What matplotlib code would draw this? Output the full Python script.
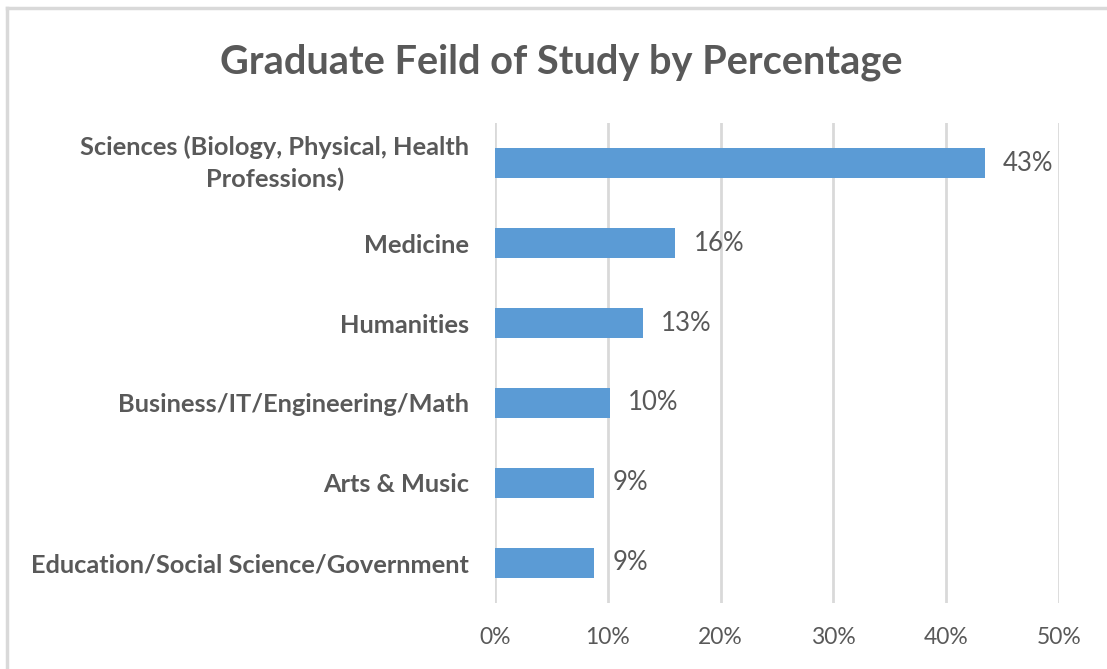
import matplotlib.pyplot as plt
from matplotlib.lines import Line2D

categories = ['Sciences (Biology, Physical, Health\nProfessions)', 'Medicine', 'Humanities',
              'Business/IT/Engineering/Math', 'Arts & Music', 'Education/Social Science/Government']
values = [0.434, 0.16, 0.131, 0.102, 0.088, 0.088]
labels = ['43%', '16%', '13%', '10%', '9%', '9%']
x_ticks = [0, 0.1, 0.2, 0.3, 0.4, 0.5]
x_tick_labels = ['0%', '10%', '20%', '30%', '40%', '50%']

plt.rcParams['font.family'] = ['Lato', 'DejaVu Sans']

W, H = 1107, 669
fig = plt.figure(figsize=(W / 100, H / 100), dpi=100)
ax = fig.add_axes([495 / W, 1 - 603 / H, (1059 - 495) / W, (603 - 123) / H])

ypos = list(range(len(categories)))
ax.barh(ypos, values, height=0.38, color='#5B9BD5', zorder=3)
ax.set_ylim(len(categories) - 0.5, -0.5)
ax.set_xlim(0, 0.5)

for y, v, lab in zip(ypos, values, labels):
    ax.text(v + 0.016, y, lab, va='center', ha='left', fontsize=18.5, color='#595959')

ax.set_yticks(ypos)
ax.set_yticklabels(categories, fontsize=18.3, fontweight='bold', color='#595959', ha='right',
                   multialignment='center', linespacing=1.45)
# the two-line label sits centred on its bar
ax.get_yticklabels()[0].set_va('center')
ax.set_xticks(x_ticks)
ax.set_xticklabels(x_tick_labels, fontsize=16.5, color='#595959')
ax.tick_params(axis='both', length=0)
ax.tick_params(axis='y', pad=18.5)
ax.tick_params(axis='x', pad=17)
ax.grid(axis='x', color='#D9D9D9', linewidth=2, zorder=0)
for s in ax.spines.values():
    s.set_visible(False)

fig.text(561 / W, 1 - 62 / H, 'Graduate Feild of Study by Percentage', ha='center', va='center',
         fontsize=28.6, fontweight='bold', color='#595959')

# outer chart border (only top and left visible)
fig.add_artist(Line2D([7 / W, 1], [1 - 8 / H, 1 - 8 / H], color='#D9D9D9', lw=2.5, transform=fig.transFigure))
fig.add_artist(Line2D([7 / W, 7 / W], [0, 1 - 8 / H], color='#D9D9D9', lw=2.5, transform=fig.transFigure))

fig.savefig('out.png', dpi=100)
